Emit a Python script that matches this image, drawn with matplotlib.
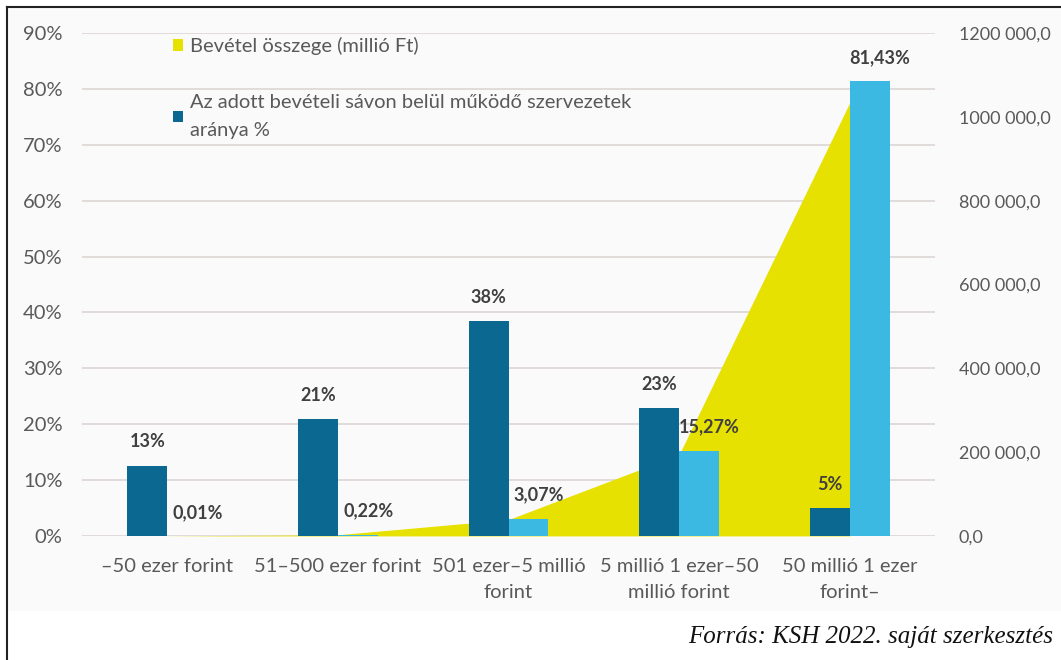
import matplotlib.pyplot as plt
import numpy as np
from matplotlib.patches import Rectangle
from matplotlib.lines import Line2D

plt.rcParams['font.family'] = ['Lato', 'DejaVu Sans']

# Adatok
kategoriak = ['–50 ezer forint', '51–500 ezer forint', '501 ezer–5 millió\nforint',
              '5 millió 1 ezer–50\nmillió forint', '50 millió 1 ezer\nforint–']
szervezet_arany = [12.6, 20.9, 38.5, 22.9, 5.0]          # sötétkék oszlop, %
bevetel_arany = [0.01, 0.22, 3.07, 15.27, 81.43]          # világoskék oszlop, %
bevetel_osszeg = [130, 2800, 39000, 194000, 1034000]     # sárga terület, millió Ft
jobb_tengely = [0, 200000, 400000, 600000, 800000, 1000000, 1200000]
jobb_cimkek = ['0,0', '200 000,0', '400 000,0', '600 000,0', '800 000,0', '1000 000,0', '1200 000,0']

sotetkek = '#0b6890'
vilagoskek = '#3cb9e2'
sarga = '#e6e100'
szoveg = '#595959'
fs = 14.5

fig = plt.figure(figsize=(10.61, 6.60), dpi=100)
fig.patches.append(Rectangle((0.007, 0.075), 0.993, 0.914, transform=fig.transFigure,
                             facecolor='#fafafa', edgecolor='none', zorder=-5))
# keret (felső és bal oldali vonal)
fig.lines.append(Line2D([0.007, 1.0], [0.989, 0.989], transform=fig.transFigure, color='#222222', lw=1.5))
fig.lines.append(Line2D([0.007, 0.007], [0.0, 0.989], transform=fig.transFigure, color='#222222', lw=1.5))

rect = [0.0773, 0.188, 0.804, 0.762]
ax = fig.add_axes(rect)          # rácsvonalak + bal tengely
ax2 = ax.twinx()                 # sárga terület + jobb tengely
ax3 = ax.twinx()                 # oszlopok
ax.set_zorder(0)
ax2.set_zorder(1)
ax3.set_zorder(2)
ax.patch.set_visible(False)
ax2.patch.set_visible(False)
ax3.patch.set_visible(False)

x = np.arange(len(kategoriak))
w = 0.234

# Terület
ax2.fill_between(x, 0, bevetel_osszeg, color=sarga, lw=0, label='Bevétel összege (millió Ft)')
ax2.set_ylim(0, 1200000)
ax2.set_yticks(jobb_tengely)
ax2.set_yticklabels(jobb_cimkek)

# Oszlopok
ax3.bar(x - w / 2, np.array(szervezet_arany) / 100, w, color=sotetkek,
        label='Az adott bevételi sávon belül működő szervezetek\naránya %')
ax3.bar(x + w / 2, np.array(bevetel_arany) / 100, w, color=vilagoskek)
ax3.set_ylim(0, 0.9)
ax3.set_yticks([])

for i in range(len(x)):
    ax3.annotate('%.0f%%' % szervezet_arany[i], (x[i] - w / 2, szervezet_arany[i] / 100),
                 xytext=(0, 17), textcoords='offset points', ha='center', va='center',
                 fontsize=13, fontweight='bold', color='#404040')
    ax3.annotate(('%.2f%%' % bevetel_arany[i]).replace('.', ','), (x[i] + w / 2 + 0.06, bevetel_arany[i] / 100),
                 xytext=(0, 17), textcoords='offset points', ha='center', va='center',
                 fontsize=13, fontweight='bold', color='#404040')

ax.set_ylim(0, 0.9)
ax.set_xlim(-0.5, 4.5)
ax.set_yticks(np.arange(0, 0.91, 0.1))
ax.set_yticklabels(['%d%%' % (v * 100) for v in np.arange(0, 0.91, 0.1).round(2)])
ax.grid(axis='y', color='#dcd5d3', lw=1.2)
ax.set_xticks(x)
ax.set_xticklabels(kategoriak, linespacing=1.65)

for a in (ax, ax2, ax3):
    for s in a.spines.values():
        s.set_visible(False)
ax.tick_params(axis='both', length=0, labelsize=fs, labelcolor=szoveg)
ax.tick_params(axis='y', pad=14)
ax.tick_params(axis='x', pad=16)
ax2.tick_params(axis='y', length=0, labelsize=13, labelcolor=szoveg, pad=17)

h2, l2 = ax2.get_legend_handles_labels()
h3, l3 = ax3.get_legend_handles_labels()
leg = ax3.legend(h2 + h3[:1], l2 + l3[:1], loc='upper left', bbox_to_anchor=(0.085, 1.028),
                 frameon=False, fontsize=fs, handlelength=0.5, handleheight=0.5,
                 handletextpad=0.35, labelspacing=1.95, labelcolor=szoveg)
for t in leg.get_texts():
    t.set_linespacing(1.75)

fig.text(0.993, 0.035, 'Forrás: KSH 2022. saját szerkesztés', ha='right', va='center',
         fontsize=18, style='italic', family='Liberation Serif', color='#111111')

plt.savefig('out.png', dpi=100)
